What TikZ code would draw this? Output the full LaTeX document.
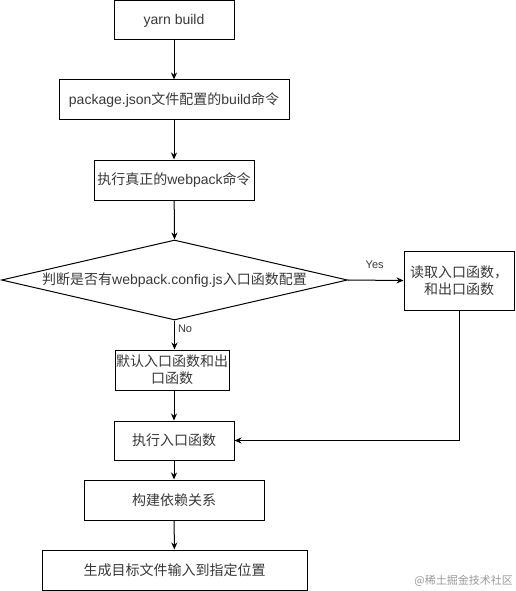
\documentclass[tikz,border=0pt]{standalone}
\usepackage{fontspec}
\setmainfont{Liberation Sans}
\newfontfamily\cjk{Noto Sans CJK SC}
\newcommand\zh[1]{{\cjk #1}}
\usetikzlibrary{shapes.geometric,arrows.meta}
\begin{document}
\begin{tikzpicture}[x=1pt,y=-1pt,
  box/.style={draw,line width=1pt,inner sep=0pt,align=center,text=black!78,font=\fontsize{14}{17}\selectfont},
  flow/.style={line width=1pt,-{Stealth[length=7pt,width=6pt]}},
  lbl/.style={font=\fontsize{11}{13}\selectfont,text=black!78,inner sep=1pt}]
\useasboundingbox (0,0) rectangle (515,591);
\node[box,minimum width=120pt,minimum height=39pt] (yarn) at (174,20.5) {yarn build};
\node[box,minimum width=230pt,minimum height=40pt] (pkg) at (174,100) {package.json\zh{文件配置的}build\zh{命令}};
\node[box,minimum width=160pt,minimum height=40pt] (wp) at (174,180) {\zh{执行真正的}webpack\zh{命令}};
\node[box,diamond,aspect=4.3,minimum width=346pt,minimum height=80pt] (dec) at (174.5,280) {\zh{判断是否有}webpack.config.js\zh{入口函数配置}};
\node[box,minimum width=110pt,minimum height=59pt] (read) at (459,280.5) {\zh{读取入口函数，}\\\zh{和出口函数}};
\node[box,minimum width=114pt,minimum height=40pt] (def) at (172,370) {\zh{默认入口函数和出}\\\zh{口函数}};
\node[box,minimum width=120pt,minimum height=39pt] (exec) at (174,440.5) {\zh{执行入口函数}};
\node[box,minimum width=180pt,minimum height=40pt] (dep) at (174,500) {\zh{构建依赖关系}};
\node[box,minimum width=265pt,minimum height=40pt] (out) at (174.5,570) {\zh{生成目标文件输入到指定位置}};
\coordinate (corner) at (459,440.5);
\draw[flow] (yarn) -- (pkg);
\draw[flow] (pkg) -- (wp);
\draw[flow] (wp) -- (dec.north);
\draw[flow] (dec.east) -- node[lbl,above=10pt,pos=0.48] (yes) {Yes} (read.west);
\draw[flow] (dec.south) -- node[lbl,right=2pt,pos=0.3] (no) {No} (def.north -| dec.south);
\draw[flow] (def.south -| exec.north) -- (exec.north);
\draw[flow] (read.south) -- (corner) -- (exec.east);
\draw[flow] (exec) -- (dep);
\draw[flow] (dep) -- (out);
\node[anchor=east,text=black!40,font=\cjk\fontsize{11}{13}\selectfont,inner sep=0pt] (wm) at (513,581) {@稀土掘金技术社区};
\end{tikzpicture}
\end{document}
